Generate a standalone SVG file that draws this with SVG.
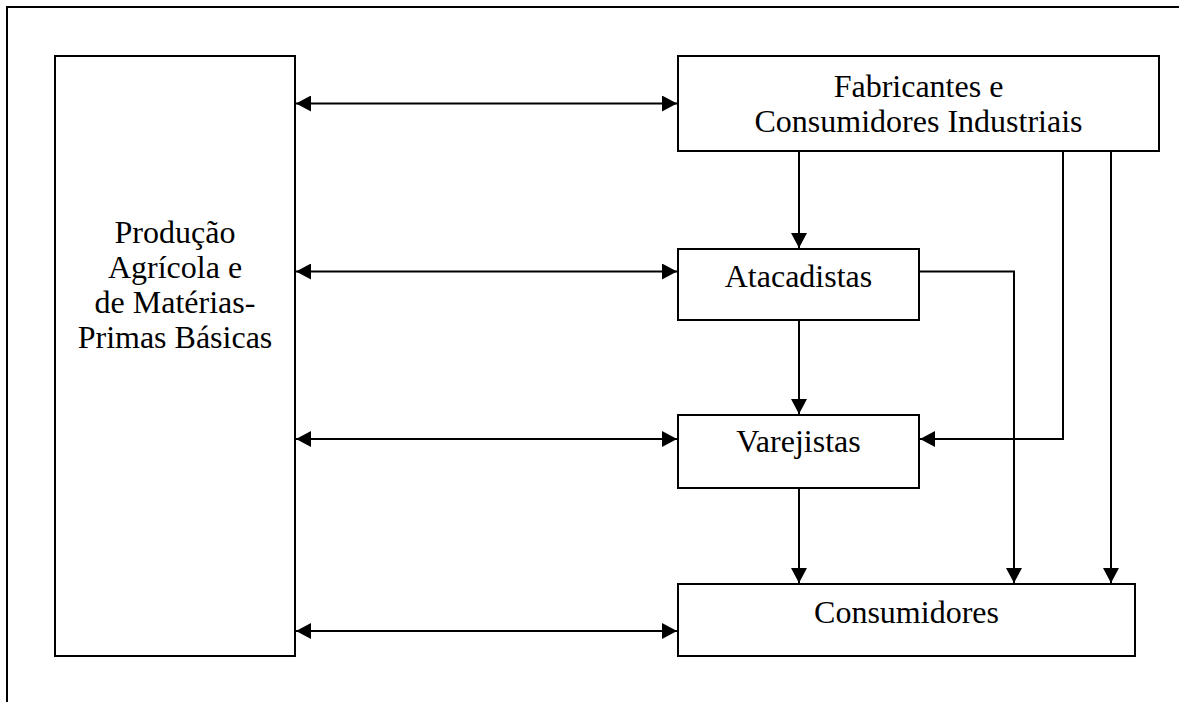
<svg xmlns="http://www.w3.org/2000/svg" width="1179" height="702" viewBox="0 0 1179 702">
<style>
.box{fill:#fff;stroke:#000;stroke-width:2}
.ln{fill:none;stroke:#000;stroke-width:2}
.t{font-family:"Liberation Serif","Times New Roman",serif;font-size:32px;fill:#000;text-anchor:middle}
</style>
<defs>
<marker id="ah" viewBox="0 0 15 16" refX="15" refY="8" markerWidth="15" markerHeight="16" markerUnits="userSpaceOnUse" orient="auto-start-reverse">
<path d="M0,0 L15,8 L0,16 Z" fill="#000"/>
</marker>
</defs>
<rect width="1179" height="702" fill="#fff"/>
<g id="frame"><path class="ln" d="M7,702 V7 H1179"/></g>
<g id="producao">
<rect class="box" x="55" y="56" width="240" height="600"/>
<text class="t" x="175" y="243">Produção</text>
<text class="t" x="175" y="278">Agrícola e</text>
<text class="t" x="175" y="313">de Matérias-</text>
<text class="t" x="175" y="348">Primas Básicas</text>
</g>
<g id="fabricantes">
<rect class="box" x="678" y="56" width="481" height="95"/>
<text class="t" x="918.5" y="97">Fabricantes e</text>
<text class="t" x="918.5" y="132">Consumidores Industriais</text>
</g>
<g id="atacadistas">
<rect class="box" x="678" y="249" width="241" height="71"/>
<text class="t" x="798.5" y="287">Atacadistas</text>
</g>
<g id="varejistas">
<rect class="box" x="678" y="415" width="241" height="73"/>
<text class="t" x="798.5" y="452">Varejistas</text>
</g>
<g id="consumidores">
<rect class="box" x="678" y="584" width="457" height="72"/>
<text class="t" x="906.5" y="623">Consumidores</text>
</g>
<g id="connectors">
<line class="ln" x1="296" y1="103.5" x2="677" y2="103.5" marker-start="url(#ah)" marker-end="url(#ah)"/>
<line class="ln" x1="296" y1="271.5" x2="677" y2="271.5" marker-start="url(#ah)" marker-end="url(#ah)"/>
<line class="ln" x1="296" y1="439" x2="677" y2="439" marker-start="url(#ah)" marker-end="url(#ah)"/>
<line class="ln" x1="296" y1="631" x2="677" y2="631" marker-start="url(#ah)" marker-end="url(#ah)"/>
<line class="ln" x1="799" y1="152" x2="799" y2="248" marker-end="url(#ah)"/>
<line class="ln" x1="799" y1="321" x2="799" y2="414" marker-end="url(#ah)"/>
<line class="ln" x1="799" y1="489" x2="799" y2="583" marker-end="url(#ah)"/>
<path class="ln" d="M920,271.5 H1014 V583" marker-end="url(#ah)"/>
<path class="ln" d="M1063,152 V439 H920" marker-end="url(#ah)"/>
<line class="ln" x1="1111" y1="152" x2="1111" y2="583" marker-end="url(#ah)"/>
</g>
</svg>
